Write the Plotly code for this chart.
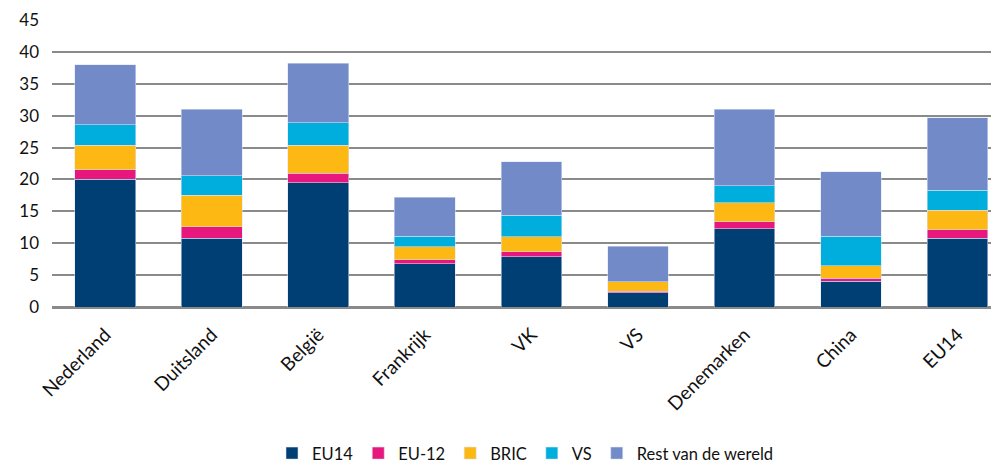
import plotly.graph_objects as go

categories = ["Nederland", "Duitsland", "België", "Frankrijk", "VK", "VS", "Denemarken", "China", "EU14"]
eu14 = [20.0, 10.8, 19.5, 6.8, 7.9, 2.2, 12.3, 4.0, 10.8]
eu12 = [1.5, 1.8, 1.5, 0.6, 0.8, 0.25, 1.1, 0.5, 1.3]
bric = [3.9, 4.9, 4.4, 2.05, 2.3, 1.5, 2.95, 2.0, 3.05]
vs = [3.2, 3.1, 3.5, 1.65, 3.4, 0.0, 2.7, 4.6, 3.15]
rest = [9.4, 10.4, 9.3, 6.1, 8.4, 5.55, 11.95, 10.1, 11.4]
y_ticks = [0, 5, 10, 15, 20, 25, 30, 35, 40, 45]

series = [
    ("EU14", eu14, "#003F74"),
    ("EU-12", eu12, "#E8177D"),
    ("BRIC", bric, "#FDB813"),
    ("VS", vs, "#00AEDD"),
    ("Rest van de wereld", rest, "#728AC8"),
]

fig = go.Figure()
for name, vals, col in series:
    fig.add_trace(go.Bar(
        x=categories, y=vals, name=name,
        marker=dict(color=col, line=dict(color="rgba(220,228,245,0.9)", width=0.6)),
    ))

font_family = "Lato, 'Open Sans', sans-serif"
fig.update_layout(
    barmode="stack",
    bargap=0.43,
    width=991, height=455,
    margin=dict(l=44, r=0, t=12, b=156, autoexpand=False),
    paper_bgcolor="white", plot_bgcolor="white",
    font=dict(family=font_family, size=17, color="#111111"),
    showlegend=True,
    legend=dict(orientation="h", x=0.5, xanchor="center", y=-0.51, yanchor="middle",
                font=dict(size=16.5, color="#111111"), traceorder="normal",
                itemwidth=30),
)
fig.update_xaxes(
    range=[-0.5, 8.39], tickangle=-45, showgrid=False, showline=False,
    ticks="", tickfont=dict(size=19, color="#111111"), automargin=False,
    ticklabelstandoff=12,
)
fig.update_yaxes(
    range=[0, 45], tickvals=y_ticks, ticktext=[str(v) for v in y_ticks],
    showgrid=True, gridcolor="#8A8A8A", gridwidth=1.6,
    zeroline=True, zerolinecolor="#8A8A8A", zerolinewidth=2.5,
    showline=False, ticks="", tickfont=dict(size=17, color="#111111"),
    ticklabelstandoff=12, automargin=False,
)
fig.write_html("out.html")
